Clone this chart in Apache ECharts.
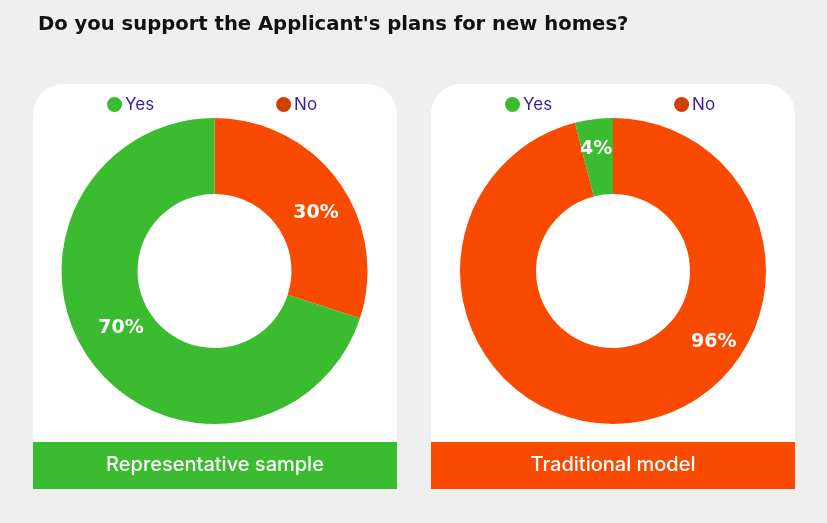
<!DOCTYPE html>
<html>
<head>
<meta charset="utf-8">
<script src="https://cdn.jsdelivr.net/npm/echarts@6/dist/echarts.min.js"></script>
<style>
    html, body { margin: 0; padding: 0; background: #efefef; }
    #chart { width: 827px; height: 523px; }
</style>
</head>
<body>
<div id="chart"></div>
<script>
var titleText = "Do you support the Applicant's plans for new homes?";
var answers = ['No', 'Yes'];
var panelNames = ['Representative sample', 'Traditional model'];
var representativeValues = [30, 70];
var traditionalValues = [96, 4];

var green = '#3bbb2f';
var orange = '#f84a00';
var font = 'Inter, "Open Sans", sans-serif';
var boldFont = '"DejaVu Sans", Inter, sans-serif';

// nudges for the slice labels, by panel then slice
var labelShift = [
    [[6, 11], [2, -12]],
    [[86, -46], [-2, -5]]
];

function buildData(values) {
    return answers.map(function (name, i) {
        return {
            name: name,
            value: values[i],
            itemStyle: { color: name === 'Yes' ? green : orange }
        };
    });
}

function makeLegend(left) {
    return {
        left: left,
        top: 91,
        icon: 'circle',
        itemWidth: 15,
        itemHeight: 15,
        itemGap: 122,
        data: [
            { name: 'Yes', itemStyle: { color: green } },
            { name: 'No', itemStyle: { color: '#d04000' } }
        ],
        textStyle: { color: '#3b1c9c', fontSize: 17, fontFamily: font, padding: [0, 0, 0, -2] }
    };
}

function makePie(name, values, cx, panel) {
    return {
        name: name,
        type: 'pie',
        center: [cx, 271],
        radius: [77, 153],
        startAngle: 90,
        clockwise: true,
        silent: true,
        label: {
            position: 'inside',
            formatter: '{c}%',
            color: '#fff',
            fontSize: 19,
            fontWeight: 'bold',
            fontFamily: boldFont
        },
        labelLayout: function (p) {
            var s = labelShift[panel][p.dataIndex];
            return { dx: s[0], dy: s[1] };
        },
        labelLine: { show: false },
        emphasis: { disabled: true },
        data: buildData(values)
    };
}

function panelBox(x, color, text) {
    return [
        {
            type: 'rect',
            shape: { x: x, y: 84, width: 364, height: 358, r: [30, 30, 0, 0] },
            style: { fill: '#fff' },
            z: -1
        },
        {
            type: 'rect',
            shape: { x: x, y: 442, width: 364, height: 47 },
            style: { fill: color }
        },
        {
            type: 'text',
            x: x + 182,
            y: 465,
            style: {
                text: text,
                fill: '#fff',
                fontSize: 20,
                fontWeight: 500,
                fontFamily: font,
                align: 'center',
                verticalAlign: 'middle'
            }
        }
    ];
}

var myChart = echarts.init(document.getElementById('chart'));
var option = {
    backgroundColor: '#efefef',
    animation: false,
    title: {
        text: titleText,
        left: 33,
        top: 10,
        textStyle: { color: '#111', fontSize: 19.6, fontWeight: 'bold', fontFamily: boldFont }
    },
    legend: [makeLegend(102), makeLegend(500)],
    graphic: panelBox(33, green, panelNames[0]).concat(panelBox(431, orange, panelNames[1])),
    series: [
        makePie(panelNames[0], representativeValues, 214.5, 0),
        makePie(panelNames[1], traditionalValues, 613, 1)
    ]
};
myChart.setOption(option);
</script>
</body>
</html>
